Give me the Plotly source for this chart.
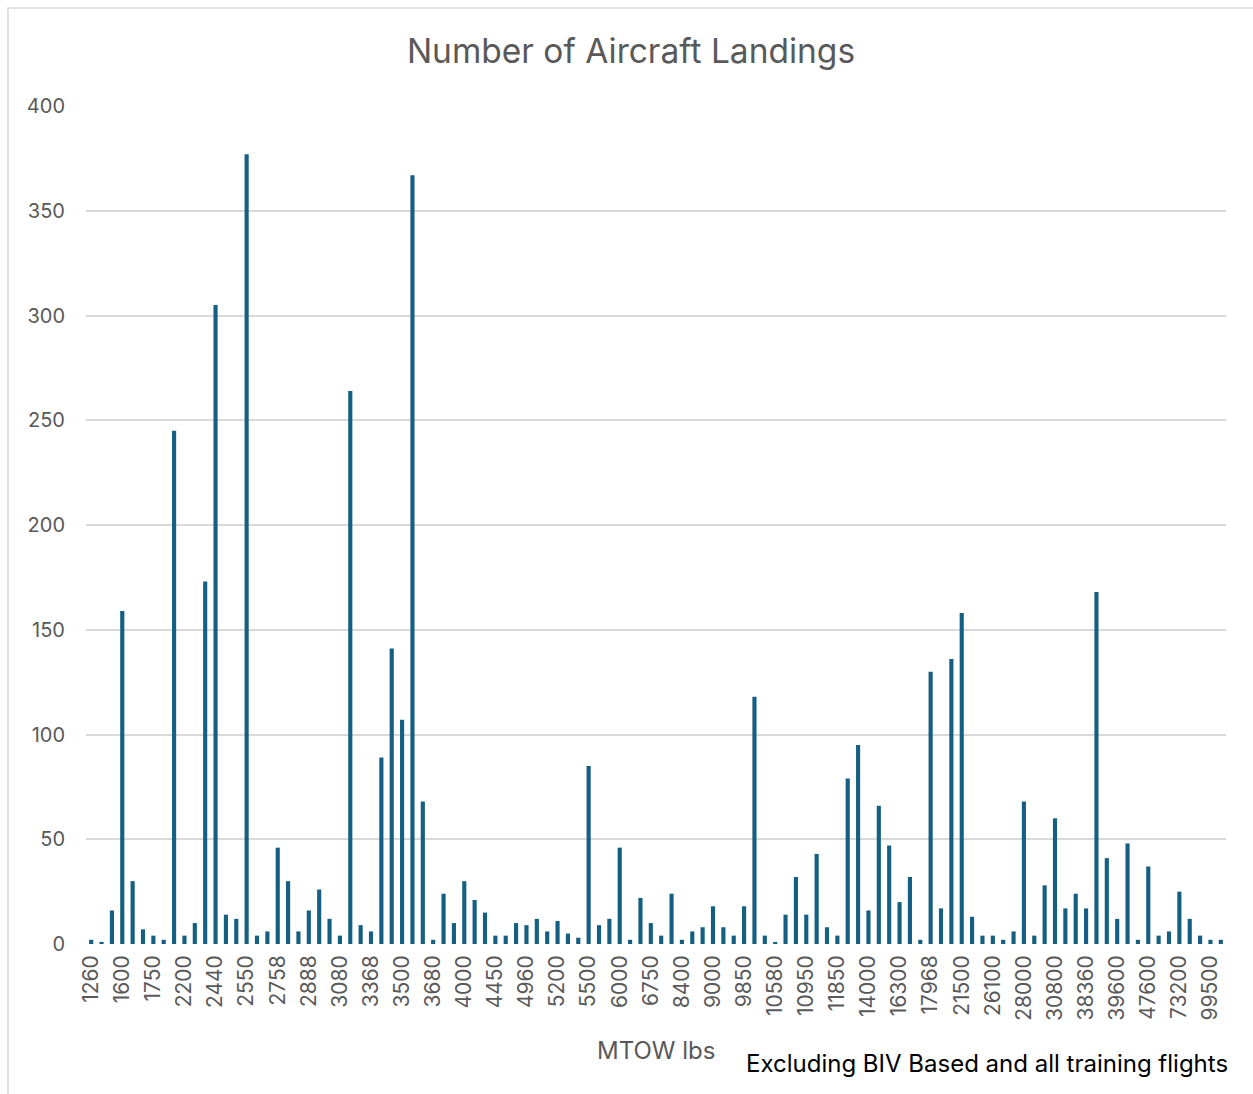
import plotly.graph_objects as go

# MTOW categories (lbs), in axis order
mtow = [
    "1260", "1320", "1430", "1600", "1670", "1700", "1750", "1800", "2000",
    "2200", "2300", "2400", "2440", "2450", "2500", "2550", "2600", "2700",
    "2758", "2800", "2850", "2888", "2900", "3000", "3080", "3100", "3200",
    "3368", "3400", "3450", "3500", "3600", "3650", "3680", "3800", "3900",
    "4000", "4100", "4300", "4450", "4500", "4800", "4960", "5000", "5090",
    "5200", "5300", "5400", "5500", "5600", "5800", "6000", "6300", "6500",
    "6750", "7000", "7500", "8400", "8500", "8800", "9000", "9300", "9500",
    "9850", "10000", "10500", "10580", "10800", "10900", "10950", "11300", "11500",
    "11850", "12500", "13500", "14000", "15100", "16000", "16300", "16500", "17000",
    "17968", "18000", "20000", "21500", "23500", "25000", "26100", "27000", "27500",
    "28000", "29500", "30000", "30800", "34000", "36000", "38360", "38500", "39000",
    "39600", "43000", "45000", "47600", "52000", "64000", "73200", "82000", "91000",
    "99500", "101000",
]

# Landings per MTOW category
landings = [
    2, 1, 16, 159, 30, 7, 4, 2, 245,
    4, 10, 173, 305, 14, 12, 377, 4, 6,
    46, 30, 6, 16, 26, 12, 4, 264, 9,
    6, 89, 141, 107, 367, 68, 2, 24, 10,
    30, 21, 15, 4, 4, 10, 9, 12, 6,
    11, 5, 3, 85, 9, 12, 46, 2, 22,
    10, 4, 24, 2, 6, 8, 18, 8, 4,
    18, 118, 4, 1, 14, 32, 14, 43, 8,
    4, 79, 95, 16, 66, 47, 20, 32, 2,
    130, 17, 136, 158, 13, 4, 4, 2, 6,
    68, 4, 28, 60, 17, 24, 17, 168, 41,
    12, 48, 2, 37, 4, 6, 25, 12, 4,
    2, 2,
]

# Every third category carries a tick label
tick_labels = mtow[::3]

BAR_COLOR = "#156082"
GRID = "#D9D9D9"
TEXT = "#595959"
FONT = "Inter"

# Plot-area geometry in pixels
W, H = 1253, 1094
L, R, T, B = 86, 27, 106, 150
PW, PH = W - L - R, H - T - B


def px_x(px):
    return (px - L) / PW


def px_y(py):
    return (H - B - py) / PH


fig = go.Figure(
    go.Bar(
        x=mtow,
        y=landings,
        marker=dict(color=BAR_COLOR, line=dict(width=0)),
    )
)

fig.update_layout(
    width=W,
    height=H,
    margin=dict(l=L, r=R, t=T, b=B),
    paper_bgcolor="white",
    plot_bgcolor="white",
    bargap=0.6,
    showlegend=False,
    font=dict(family=FONT, color=TEXT, size=20),
    title=dict(
        text="Number of Aircraft Landings",
        x=631 / W,
        xref="container",
        xanchor="center",
        y=1 - 51 / H,
        yref="container",
        yanchor="middle",
        font=dict(family=FONT, size=33.5, color=TEXT),
    ),
    xaxis=dict(
        type="category",
        tickmode="array",
        tickvals=tick_labels,
        ticktext=tick_labels,
        tickangle=-90,
        tickfont=dict(family=FONT, size=21, color=TEXT),
        ticklabelstandoff=6,
        showgrid=False,
        showline=False,
        zeroline=False,
        ticks="",
    ),
    yaxis=dict(
        range=[0, 400],
        dtick=50,
        tick0=0,
        showgrid=True,
        gridcolor=GRID,
        gridwidth=1.5,
        zeroline=False,
        showline=False,
        ticks="",
        ticklabelstandoff=20,
        tickfont=dict(family=FONT, size=20, color=TEXT),
    ),
    annotations=[
        dict(
            text="MTOW lbs",
            xref="paper",
            yref="paper",
            x=0.5,
            y=px_y(1050),
            xanchor="center",
            yanchor="middle",
            showarrow=False,
            font=dict(family=FONT, size=24, color=TEXT),
        ),
        dict(
            text="Excluding BIV Based and all training flights",
            xref="paper",
            yref="paper",
            x=px_x(1230),
            y=px_y(1063),
            xanchor="right",
            yanchor="middle",
            showarrow=False,
            font=dict(family=FONT, size=24, color="black"),
        ),
    ],
    shapes=[
        dict(
            type="rect",
            xref="paper",
            yref="paper",
            x0=px_x(8),
            x1=px_x(1262),
            y0=px_y(1102),
            y1=px_y(8),
            line=dict(color=GRID, width=1.5),
            fillcolor="rgba(0,0,0,0)",
            layer="below",
        )
    ],
)

fig.write_html("out.html")
